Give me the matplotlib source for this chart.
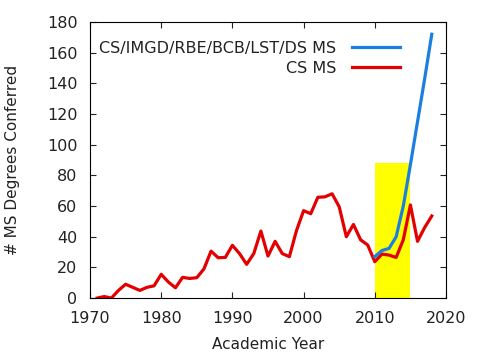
import matplotlib
matplotlib.use("Agg")
import matplotlib.pyplot as plt
from matplotlib.patches import Rectangle

# CS MS degrees per academic year
cs_years = list(range(1971, 2019))
cs_ms = [0, 1, 0, 5, 9, 7, 5, 7, 8, 15.5, 10.5, 6.7, 13.5, 12.8, 13.3, 19, 30.6,
         26.3, 26.5, 34.4, 29, 22, 29, 43.7, 27.4, 37, 29, 27, 44, 57, 55, 65.7,
         66, 68, 59.5, 40, 48, 38, 34.6, 23.7, 28.7, 28, 26.5, 38, 60.7, 37, 46, 53.5]

# combined CS/IMGD/RBE/BCB/LST/DS MS
all_years = list(range(2010, 2019))
all_ms = [27, 31, 32.4, 40, 60, 87, 115, 143, 172]

# highlighted window
hl_start, hl_end, hl_height = 2010, 2015, 88

plt.rcParams["font.family"] = "DejaVu Sans"
fig = plt.figure(figsize=(4.8, 3.6), dpi=100)
ax = fig.add_axes([0.1875, 0.172, 0.7417, 0.767])

ax.add_patch(Rectangle((hl_start, 0), hl_end - hl_start, hl_height,
                       facecolor="#ffff00", edgecolor="none", zorder=1))
ax.plot(all_years, all_ms, color="#1a7fe0", lw=2.3, zorder=3,
        label="CS/IMGD/RBE/BCB/LST/DS MS")
ax.plot(cs_years, cs_ms, color="#e30000", lw=2.3, zorder=2, label="CS MS")

ax.set_xlim(1970, 2020)
ax.set_ylim(0, 180)
ax.set_xticks(range(1970, 2021, 10))
ax.set_yticks(range(0, 181, 20))
ax.tick_params(direction="in", top=True, right=True, labelsize=11.5, length=4,
               colors="#222222", labelcolor="#222222")
ax.tick_params(axis="x", pad=9)
ax.tick_params(axis="y", pad=9)
ax.set_xlabel("Academic Year", fontsize=11, labelpad=8, color="#222222")
ax.set_ylabel("# MS Degrees Conferred", fontsize=11, labelpad=19, color="#222222")

ax.legend(loc="upper left", frameon=False, markerfirst=False, fontsize=11.5,
          handlelength=3.0, handletextpad=1.0, borderaxespad=0.0,
          labelspacing=0.3, bbox_to_anchor=(0.007, 0.955))
for t in ax.get_legend().get_texts():
    t.set_ha("right")
leg = ax.get_legend()
leg._legend_box.align = "right"
for t in leg.get_texts():
    t.set_color("#222222")

fig.savefig("out.png")
